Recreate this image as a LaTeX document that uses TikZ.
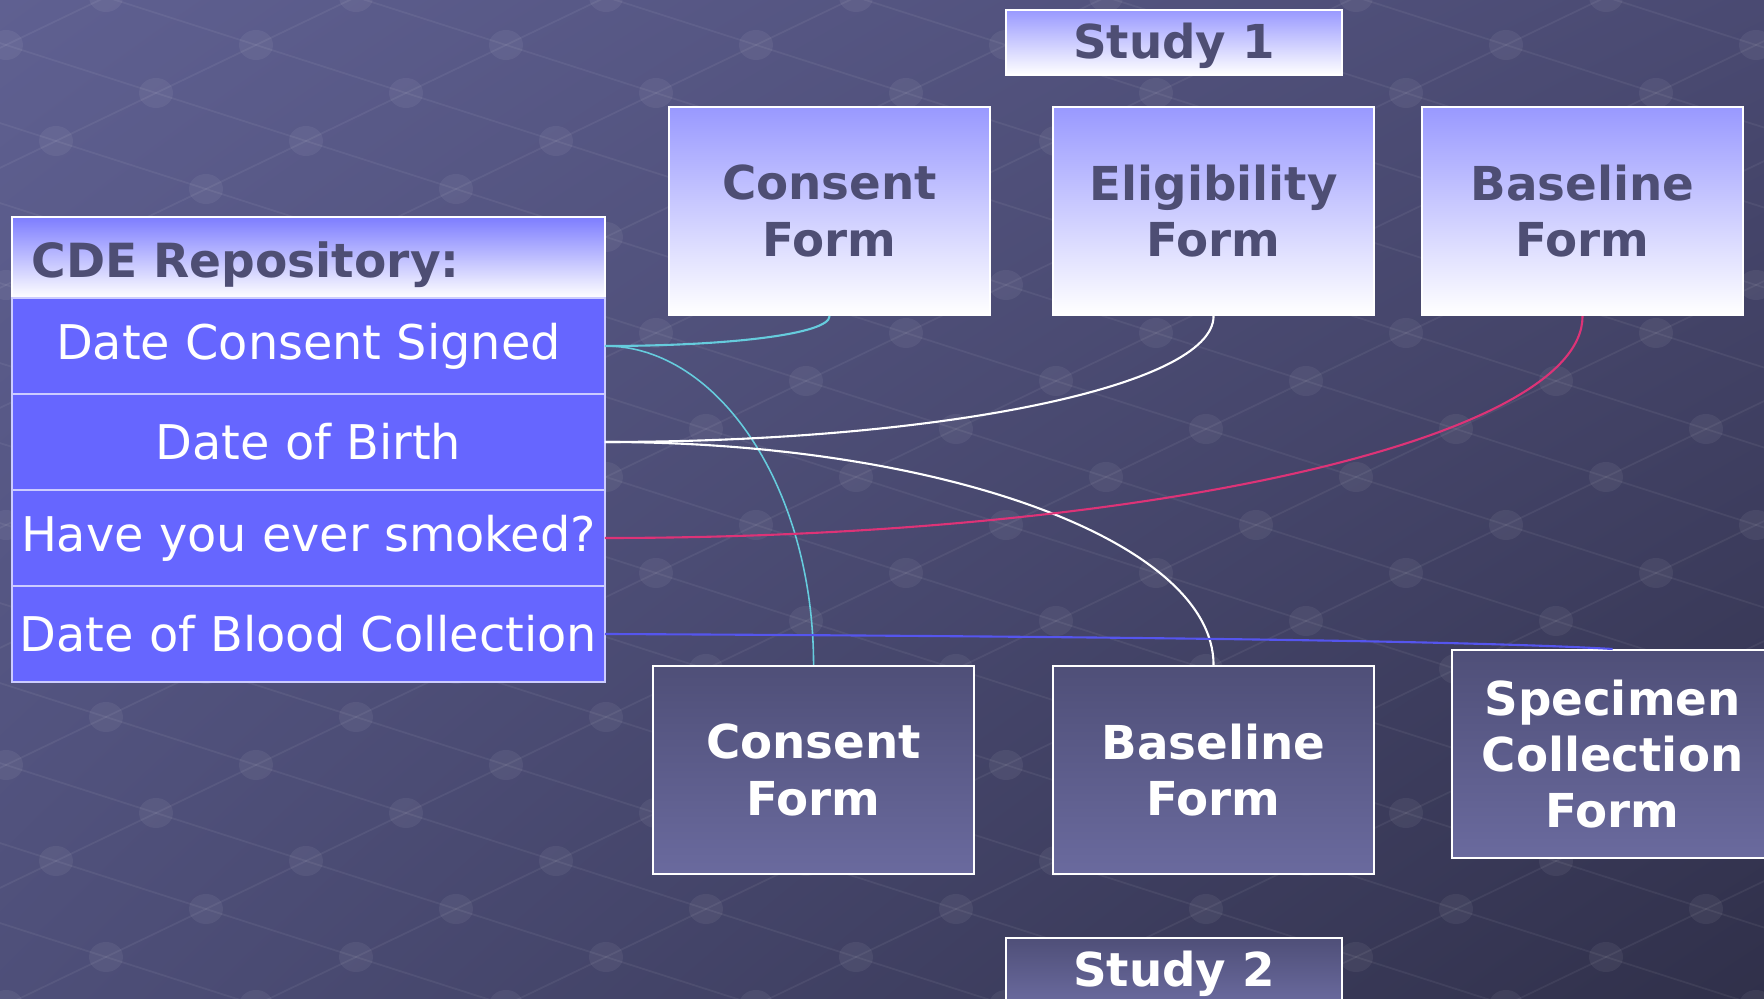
\documentclass[tikz,border=0pt]{standalone}
\usepackage{fontspec}
\setmainfont{DejaVu Sans}
\usetikzlibrary{positioning,shadings}
\definecolor{bgA}{HTML}{5F6091}
\definecolor{bgB}{HTML}{4A4A72}
\definecolor{bgC}{HTML}{4E4F79}
\definecolor{bgD}{HTML}{30304A}
\definecolor{radblaa}{HTML}{6666FF}
\definecolor{lilla}{HTML}{9999FF}
\definecolor{mork}{HTML}{4E4E74}
\definecolor{skiferA}{HTML}{4F4F78}
\definecolor{skiferB}{HTML}{6A6A9E}
\definecolor{kant}{HTML}{CCCCFF}
\definecolor{cyanlinje}{HTML}{66CCDD}
\definecolor{rosa}{HTML}{DD3377}
\definecolor{blaalinje}{HTML}{5555EE}
\newcommand{\skjemafont}{\fontsize{13.3}{16}\selectfont\bfseries}
\newcommand{\radfont}{\fontsize{13.6}{16}\selectfont}
\tikzstyle{line} = [draw, line width=0.6pt]
\tikzstyle{prikk} = [fill=white, fill opacity=0.06]
\tikzstyle{gitter} = [draw=white, draw opacity=0.06, line width=0.5pt]
\tikzstyle{toppskjema} = [draw=white, line width=0.6pt, top color=lilla, bottom color=white, text=mork, font=\skjemafont, align=center, minimum width=32.1mm, minimum height=20.8mm, anchor=north west]
\tikzstyle{bunnskjema} = [draw=white, line width=0.6pt, top color=skiferA, bottom color=skiferB, text=white, font=\skjemafont, align=center, minimum width=32.1mm, minimum height=20.8mm, anchor=north west]
\tikzstyle{studie} = [inner ysep=0.5mm, text height=4.3mm, text depth=1.2mm, minimum height=6.5mm, minimum width=33.6mm]
\tikzstyle{hode} = [draw=white, line width=0.6pt, outer sep=0pt, top color=radblaa!85!white, bottom color=white, text=mork, font=\fontsize{13.4}{15}\selectfont\bfseries, align=left, text width=55.3mm, inner xsep=2mm, inner ysep=0.5mm, text height=5.6mm, text depth=1.5mm, minimum height=8.1mm, anchor=north west]
\tikzstyle{felt} = [draw=kant, line width=0.6pt, outer sep=0pt, fill=radblaa, text=white, font=\radfont, inner xsep=0.5mm, minimum width=59.3mm, minimum height=9.6mm]

\begin{document}
\begin{tikzpicture}[x=0.1mm, y=-0.1mm]
        \useasboundingbox (0,0) rectangle (1764,999);
        \clip (0,0) rectangle (1764,999);
        \shade[upper left=bgA, upper right=bgB, lower left=bgC, lower right=bgD] (0,0) rectangle (1764,999);
        \foreach \j in {-7,...,14}{
            \foreach \i in {-6,...,10}{
                \draw[gitter] ({656+250*\i-100*\j},{333+48*\j}) -- ++(150,48);
                \draw[gitter] ({656+250*\i-100*\j},{333+48*\j}) -- ++(100,-48);
                \fill[prikk] ({656+250*\i-100*\j},{333+48*\j}) ellipse (1.7mm and 1.5mm);
            }
        }
        
        \node[toppskjema, studie] (studie1) at (1005,9) {Study 1};
        \node[toppskjema] (skjema1) at (668,106) {Consent\\Form};
        \node[toppskjema] (skjema2) at (1052,106) {Eligibility\\Form};
        \node[toppskjema] (skjema3) at (1421,106) {Baseline\\Form};
        
        \node[hode] (repo) at (12,217) {CDE Repository:};
        \node[felt, below=0pt of repo] (felt1) {Date Consent Signed};
        \node[felt, below=0pt of felt1] (felt2) {Date of Birth};
        \node[felt, below=0pt of felt2] (felt3) {Have you ever smoked?};
        \node[felt, below=0pt of felt3] (felt4) {Date of Blood Collection};
        
        \node[bunnskjema] (skjema4) at (652,665) {Consent\\Form};
        \node[bunnskjema] (skjema5) at (1052,665) {Baseline\\Form};
        \node[bunnskjema] (skjema6) at (1451,649) {Specimen\\Collection\\Form};
        \node[bunnskjema, studie] (studie2) at (1005,937) {Study 2};
        
        \draw[line, cyanlinje] (felt1.east) .. controls +(124,0) and +(0,18) .. (skjema1.south);
        \draw[line, cyanlinje, line width=0.45pt] (felt1.east) .. controls +(114,0) and +(0,-176) .. (skjema4.north);
        \draw[line, white] (felt2.east) .. controls +(336,0) and +(0,70) .. (skjema2.south);
        \draw[line, white] (felt2.east) .. controls +(336,0) and +(0,-124) .. (skjema5.north);
        \draw[line, rosa] (felt3.east) .. controls +(539,0) and +(0,123) .. (skjema3.south);
        \draw[line, blaalinje] (felt4.east) .. controls +(600,3) and +(-120,-7) .. (skjema6.north);
    \end{tikzpicture}
\end{document}
